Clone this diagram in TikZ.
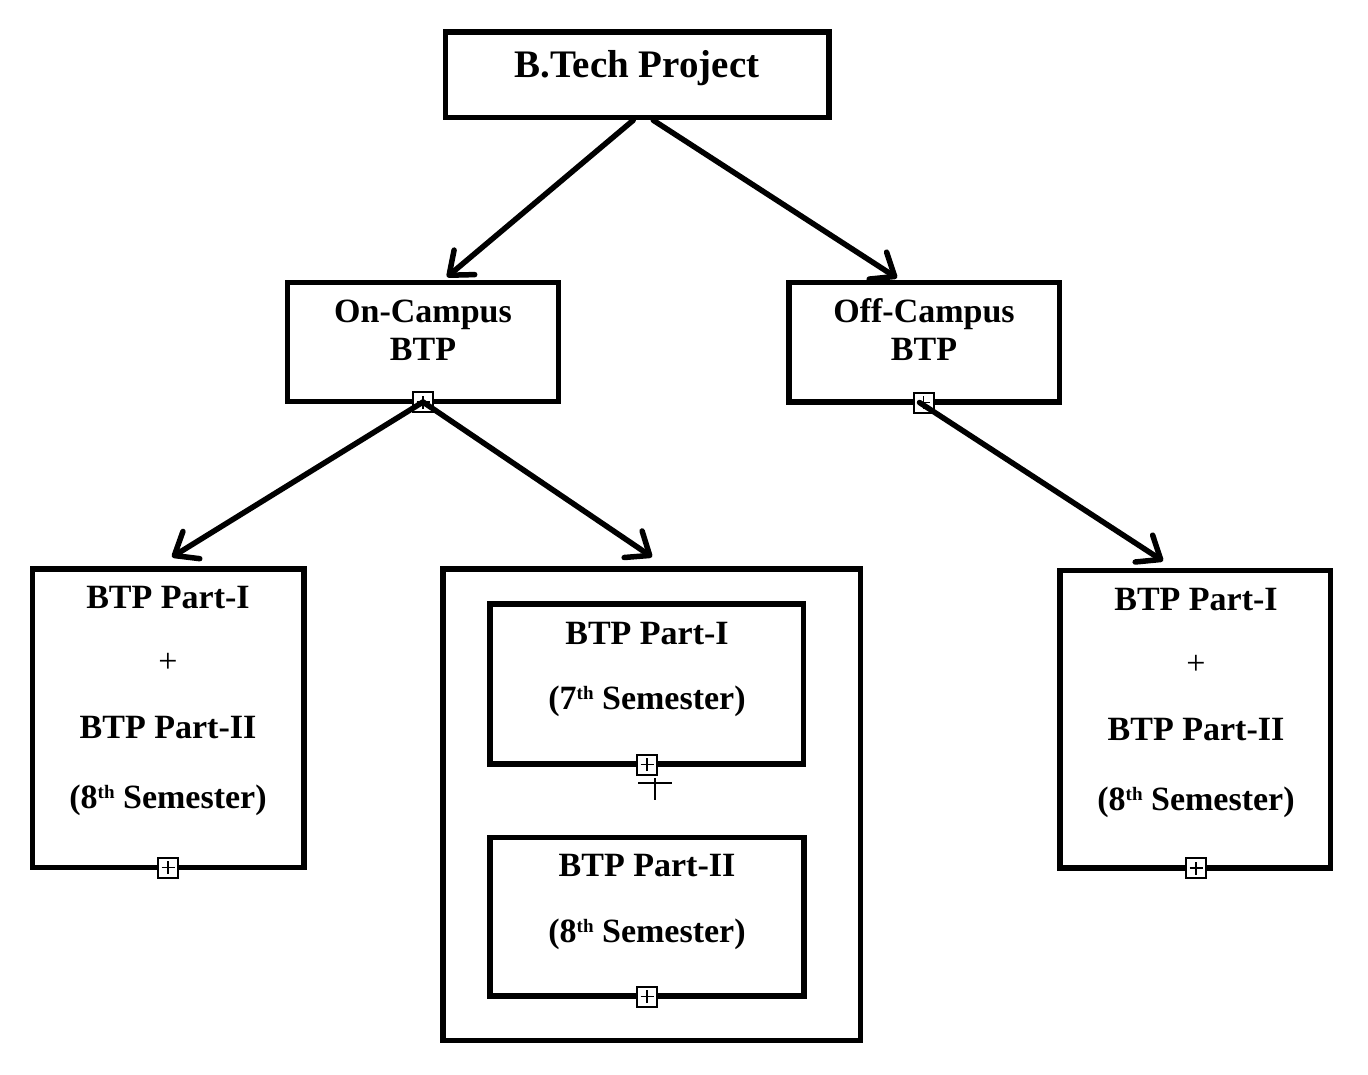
\documentclass[tikz,border=0pt]{standalone}
\usepackage{fontspec}
\setmainfont{Liberation Serif}
\usetikzlibrary{arrows.meta}
\newcommand\mysup[1]{\raisebox{10pt}{\fontsize{19}{19}\selectfont #1}}
\tikzset{
  boxy/.style={draw, rectangle, line width=5.5pt, inner sep=0pt},
  lbl/.style={font=\fontsize{34}{40}\selectfont\bfseries, inner sep=0pt, anchor=base},
  ttl/.style={font=\fontsize{39}{44}\selectfont\bfseries, inner sep=0pt, anchor=base},
  plus/.style={font=\fontsize{34}{40}\selectfont, inner sep=0pt, anchor=center},
  sq/.style={draw, rectangle, line width=2pt, fill=white, minimum size=20pt, inner sep=0pt,
    path picture={
      \draw[line width=1.5pt] ([xshift=-6.5pt]path picture bounding box.center) -- ([xshift=6.5pt]path picture bounding box.center);
      \draw[line width=1.5pt] ([yshift=-6.5pt]path picture bounding box.center) -- ([yshift=6.5pt]path picture bounding box.center);
    }},
  arr/.style={line width=5.5pt, line cap=round, -{Straight Barb[length=20pt, width=32pt, round]}}
}
\begin{document}
\begin{tikzpicture}[x=1pt,y=-1pt]
\useasboundingbox (0,0) rectangle (1368,1074);
\fill[white] (0,0) rectangle (1368,1074);

% boxes
\node[boxy, minimum width=383.5pt, minimum height=85.5pt] (top) at (637.25,74.75) {};
\node[boxy, minimum width=271pt, minimum height=119pt] (on) at (423,342) {};
\node[boxy, minimum width=270.5pt, minimum height=119.5pt] (off) at (924.25,342.25) {};
\node[boxy, minimum width=271.5pt, minimum height=298.5pt] (left) at (168.25,718.25) {};
\node[boxy, minimum width=417.5pt, minimum height=471.5pt] (mid) at (651.75,804.75) {};
\node[boxy, minimum width=313.5pt, minimum height=160pt] (in1) at (646.75,684) {};
\node[boxy, minimum width=314pt, minimum height=158.5pt] (in2) at (647,916.75) {};
\node[boxy, minimum width=270.5pt, minimum height=297.5pt] (right) at (1195.25,719.25) {};

% texts
\node[ttl] (topT) at (637,77) {B.Tech Project};
\node[lbl] (onA) at (423,322) {On-Campus};
\node[lbl] (onB) at (423,360) {BTP};
\node[lbl] (offA) at (924,322) {Off-Campus};
\node[lbl] (offB) at (924,360) {BTP};

\node[lbl] (lA) at (168,608) {BTP Part-I};
\node[plus] (lP) at (168,663) {+};
\node[lbl] (lB) at (168,738) {BTP Part-II};
\node[lbl] (lC) at (168,808) {(8\mysup{th} Semester)};

\node[lbl] (i1A) at (647,644) {BTP Part-I};
\node[lbl] (i1B) at (647,709) {(7\mysup{th} Semester)};
\node[lbl] (i2A) at (647,876) {BTP Part-II};
\node[lbl] (i2B) at (647,942) {(8\mysup{th} Semester)};

\node[lbl] (rA) at (1196,610) {BTP Part-I};
\node[plus] (rP) at (1196,665) {+};
\node[lbl] (rB) at (1196,740) {BTP Part-II};
\node[lbl] (rC) at (1196,810) {(8\mysup{th} Semester)};

% small expand squares
\node[sq] (sqOn) at (423,402) {};
\node[sq] (sqOff) at (923.5,402.5) {};
\node[sq] (sqL) at (168,867.5) {};
\node[sq] (sqI1) at (647,764.5) {};
\node[sq] (sqI2) at (647,996.5) {};
\node[sq] (sqR) at (1196,868) {};

% cross under first inner box
\coordinate (cx) at (655,783);
\draw[line width=2pt] ([xshift=-17pt]cx) -- ([xshift=17pt]cx);
\draw[line width=2pt] ([yshift=5pt]cx) -- ([yshift=-17pt]cx);

% arrow targets
\coordinate (tOn) at (447,277);
\coordinate (tOff) at (897,278);
\coordinate (tL) at (172,557);
\coordinate (tM) at (652,557);
\coordinate (tR) at (1163,561);

\draw[arr] ([xshift=-4pt]top.south) -- (tOn);
\draw[arr] ([xshift=16pt]top.south) -- (tOff);
\draw[arr] (sqOn.center) -- (tL);
\draw[arr] (sqOn.center) -- (tM);
\draw[arr] ([xshift=-4pt]sqOff.center) -- (tR);
\end{tikzpicture}
\end{document}
